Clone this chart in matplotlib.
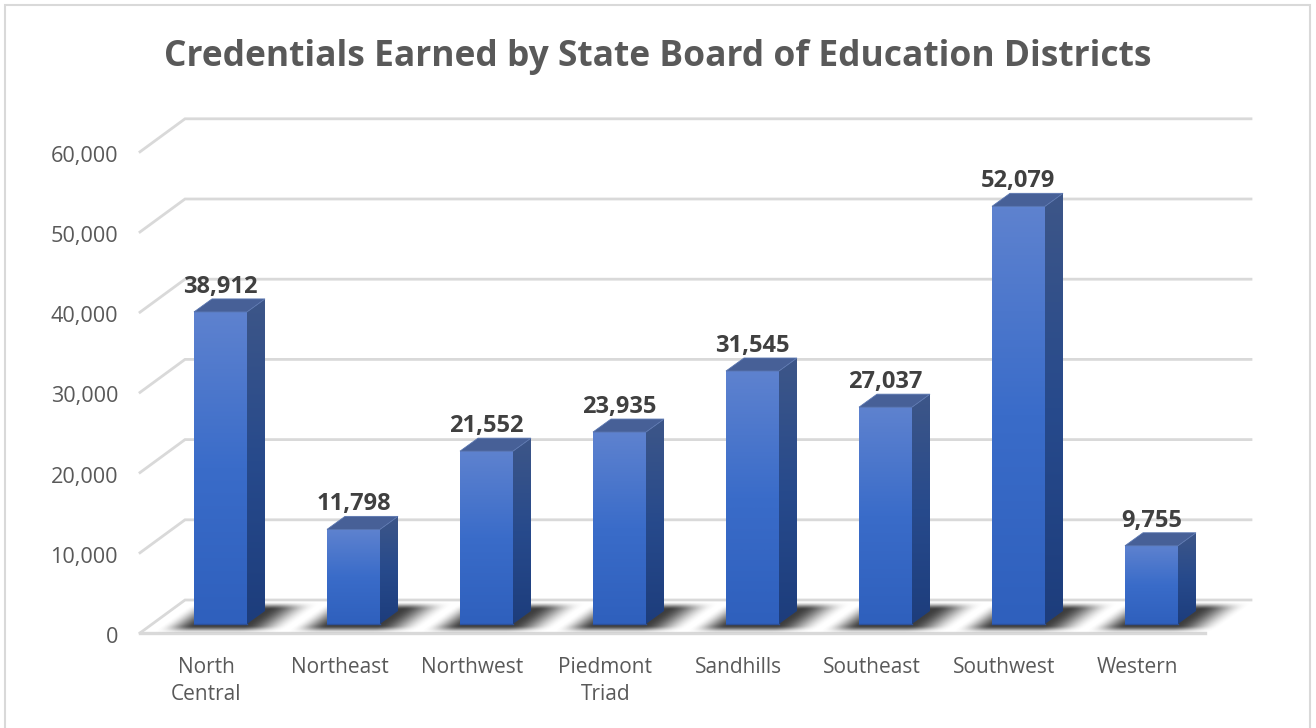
import matplotlib
matplotlib.use("Agg")
import matplotlib.pyplot as plt
from matplotlib.colors import LinearSegmentedColormap
from matplotlib.patches import Polygon, Rectangle
import numpy as np

districts = ["North\nCentral", "Northeast", "Northwest", "Piedmont\nTriad", "Sandhills",
             "Southeast", "Southwest", "Western"]
credentials = [38912, 11798, 21552, 23935, 31545, 27037, 52079, 9755]
ticks = [0, 10000, 20000, 30000, 40000, 50000, 60000]

plt.rcParams["font.family"] = ["Open Sans", "DejaVu Sans"]

W, H = 1316, 728
PER_CAT = 133.0         # px between categories
PER_UNIT = 0.00802      # px per credential
X0, Y0 = 220.5, 624.0   # px position of category 0, value 0
BAR_W = 53 / PER_CAT
DX = 18 / PER_CAT       # bar depth
DY = 13 / PER_UNIT

fig = plt.figure(figsize=(W / 100, H / 100), dpi=100)
ax = fig.add_axes([0, 0, 1, 1])
ax.axis("off")


def xd(px):
    return (px - X0) / PER_CAT


def yd(px):
    return (Y0 - px) / PER_UNIT


def gradient(x0, x1, y0, y1, colors, clip=None, z=3):
    cmap = LinearSegmentedColormap.from_list("g", colors)
    im = ax.imshow(np.linspace(0, 1, 128)[:, None], cmap=cmap, extent=[x0, x1, y0, y1],
                   aspect="auto", origin="upper", zorder=z, interpolation="bilinear")
    if clip is not None:
        poly = Polygon(clip, closed=True, transform=ax.transData, fc="none", ec="none")
        ax.add_patch(poly)
        im.set_clip_path(poly)


def ramp(a, lo, hi):
    u = np.clip((a - lo) / (hi - lo), 0, 1)
    return u * u * (3 - 2 * u)


# frame
ax.add_patch(Rectangle((xd(4.5), yd(5)), (1310 - 4.5) / PER_CAT, (5 - 740) / PER_UNIT,
                       fc="white", ec="#d9d9d9", lw=1.5, zorder=0))

# gridlines on back wall and side wall
GRID = "#d9d9d9"
BACK = 24 / PER_UNIT
SIDE_L, SIDE_R = xd(140), xd(185)
RIGHT = xd(1251)
for v in ticks:
    ax.plot([SIDE_L, SIDE_R, RIGHT],
            [v - 9 / PER_UNIT, v + BACK, v + BACK], color=GRID, lw=2, zorder=1,
            solid_joinstyle="miter")
    ax.text(xd(118), v - 11 / PER_UNIT, f"{v:,}", ha="right", va="center_baseline",
            fontsize=15.6, color="#595959")
ax.plot([SIDE_L, xd(1205)], [-9 / PER_UNIT, -9 / PER_UNIT], color=GRID, lw=2.4, zorder=1)

# floor shadows, soft slanted band around each bar's foot
gx, gy = np.meshgrid(np.arange(-60, 130), np.arange(596, 640))
s = gx + 1.4 * (gy - 617)
sh = ramp(s, -22, 14) * (1 - ramp(s, 62, 108)) * ramp(gy, 601, 609) * (1 - ramp(gy, 625, 633))
rgba = np.zeros(sh.shape + (4,))
rgba[..., :3] = 0.2
rgba[..., 3] = sh * 0.95
for i in range(len(districts)):
    lx = X0 + PER_CAT * i - 26.5
    ax.imshow(rgba, extent=[xd(lx - 60), xd(lx + 130), yd(640), yd(596)],
              aspect="auto", origin="upper", zorder=2, interpolation="bilinear")

# bars
for i, v in enumerate(credentials):
    x0, x1 = i - BAR_W / 2, i + BAR_W / 2
    top = np.array([[x0, v], [x0 + DX, v + DY], [x1 + DX, v + DY], [x1, v]])
    ax.add_patch(Polygon(top, closed=True, fc="#476097", ec="#5a76b0", lw=0.6, zorder=4))
    side = np.array([[x1, 0], [x1 + DX, DY], [x1 + DX, v + DY], [x1, v]])
    gradient(x1, x1 + DX, 0, v + DY, ["#3d5688", "#274a8c", "#1d3d7c"], clip=side)
    gradient(x0, x1, 0, v, ["#5e82cf", "#3a6cc9", "#2f60bd"], z=3)
    ax.plot([x0, x1], [0, 0], color="#2b4f99", lw=1, zorder=4)
    ax.text(i, v + DY, f"{v:,}", ha="center", va="bottom",
            fontsize=17, fontweight="bold", color="#404040", zorder=5)
    ax.text(i - 14 / PER_CAT, yd(657), districts[i], ha="center", va="top", fontsize=15,
            color="#595959", linespacing=1.37)

ax.set_xlim(-X0 / PER_CAT, (W - X0) / PER_CAT)
ax.set_ylim((Y0 - H) / PER_UNIT, Y0 / PER_UNIT)

ax.text(xd(658), yd(57), "Credentials Earned by State Board of Education Districts", ha="center",
        va="center", fontsize=25.5, fontweight="bold", color="#595959")

fig.savefig("out.png", dpi=100)
